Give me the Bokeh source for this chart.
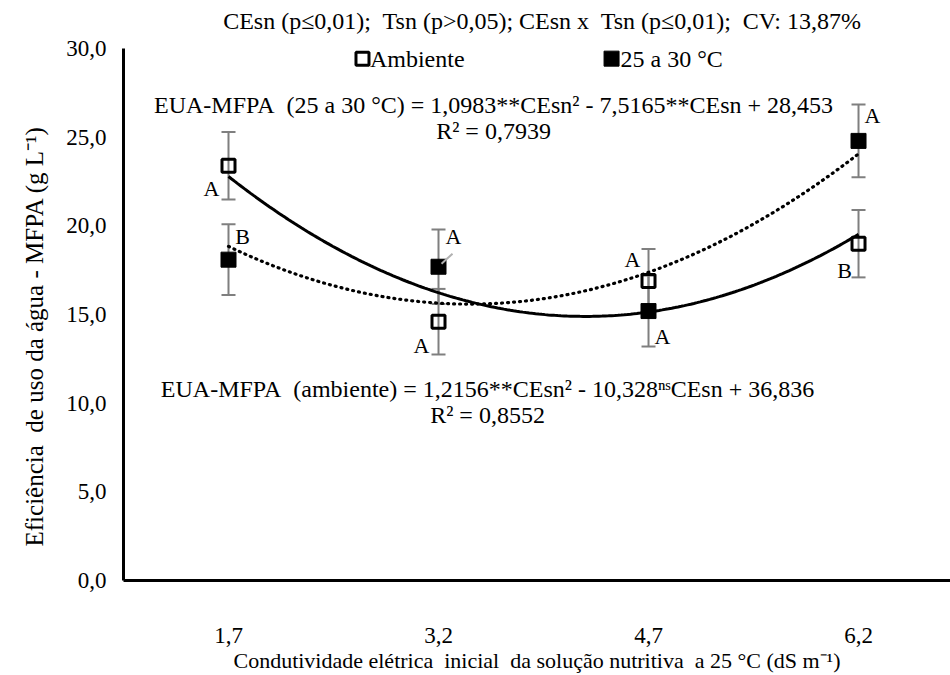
import numpy as np
from bokeh.plotting import figure
from bokeh.models import (ColumnDataSource, Whisker, TeeHead, Label, Range1d, FixedTicker, Title)
from bokeh.core.properties import value
from bokeh.embed import file_html
from bokeh.resources import INLINE

# ---------------- data ----------------
cesn = [1.7, 3.2, 4.7, 6.2]
x_tick_labels = ["1,7", "3,2", "4,7", "6,2"]

amb_mean = [23.4, 14.6, 16.9, 19.0]
amb_err = [1.9, 1.85, 1.8, 1.9]
amb_letters = ["A", "A", "A", "B"]

hot_mean = [18.1, 17.7, 15.2, 24.8]
hot_err = [2.0, 2.1, 2.0, 2.05]
hot_letters = ["B", "A", "A", "A"]

amb_coef = [1.2156, -10.328, 36.836]   # a*x^2 + b*x + c
hot_coef = [1.0983, -7.5165, 28.453]

y_ticks = [0, 5, 10, 15, 20, 25, 30]
y_tick_labels = ["0,0", "5,0", "10,0", "15,0", "20,0", "25,0", "30,0"]

NB = "\u00a0"
title_text = f"CEsn (p\u22640,01);{NB} Tsn (p>0,05); CEsn x{NB} Tsn (p\u22640,01);{NB} CV: 13,87%"
eq_hot = f"EUA-MFPA{NB} (25 a 30 \u00b0C) = 1,0983**CEsn\u00b2 - 7,5165**CEsn + 28,453"
r2_hot = "R\u00b2 = 0,7939"
eq_amb = f"EUA-MFPA{NB} (ambiente) = 1,2156**CEsn\u00b2 - 10,328\u207f\u02e2CEsn + 36,836"
r2_amb = "R\u00b2 = 0,8552"
x_label = (f"Condutividade el\u00e9trica{NB} inicial{NB} da solu\u00e7\u00e3o nutritiva{NB} "
           f"a 25 \u00b0C (dS m\u207b\u00b9)")
y_label = f"Efici\u00eancia{NB} de uso da \u00e1gua - MFPA (g L\u207b\u00b9)"
legend_labels = ["Ambiente", "25 a 30 \u00b0C"]

# ---------------- figure ----------------
FONT = "Liberation Serif"
PX_X = 140.0     # px per CEsn unit
PX_Y = 17.73     # px per y unit
p = figure(width=950, height=675, x_range=Range1d(0.95, 6.857), y_range=Range1d(0, 32.72),
           output_backend="svg", toolbar_location=None,
           min_border_left=123, min_border_right=0, min_border_top=0, min_border_bottom=95)
p.outline_line_color = None
p.xgrid.visible = False
p.ygrid.visible = False
p.background_fill_color = "white"

for ax in (p.xaxis[0], p.yaxis[0]):
    ax.axis_line_width = 3
    ax.axis_line_color = "black"
    ax.major_tick_out = 0
    ax.major_tick_in = 0
    ax.minor_tick_out = 0
    ax.minor_tick_in = 0
    ax.major_label_text_font = FONT
    ax.major_label_text_font_size = "23px"
    ax.major_label_text_color = "black"
    ax.axis_label_text_font = FONT
    ax.axis_label_text_font_style = "normal"
    ax.axis_label_text_color = "black"

p.xaxis.ticker = FixedTicker(ticks=cesn)
p.xaxis.major_label_overrides = {c: l for c, l in zip(cesn, x_tick_labels)}
p.xaxis.major_label_standoff = 47
p.xaxis.axis_label = x_label
p.xaxis.axis_label_text_font_size = "22px"
p.xaxis.axis_label_standoff = 2

p.yaxis.ticker = FixedTicker(ticks=y_ticks)
p.yaxis.bounds = (0, 30)
p.yaxis.major_label_overrides = {t: l for t, l in zip(y_ticks, y_tick_labels)}
p.yaxis.major_label_standoff = 17

# y-axis title as a side title so it can be aligned to the 0-30 span
p.add_layout(Title(text=y_label, align="left", offset=34, standoff=31,
                   text_font=FONT, text_font_size="25px", text_font_style="normal",
                   text_color="black"), "left")

# ---------------- error bars ----------------
amb_src = ColumnDataSource(dict(x=cesn, y=amb_mean,
                                up=[m + e for m, e in zip(amb_mean, amb_err)],
                                lo=[m - e for m, e in zip(amb_mean, amb_err)]))
hot_src = ColumnDataSource(dict(x=cesn, y=hot_mean,
                                up=[m + e for m, e in zip(hot_mean, hot_err)],
                                lo=[m - e for m, e in zip(hot_mean, hot_err)]))
GREY = "#7f7f7f"
for src in (amb_src, hot_src):
    w = Whisker(base="x", upper="up", lower="lo", source=src,
                line_color=GREY, line_width=2, level="underlay",
                upper_head=TeeHead(size=14, line_color=GREY, line_width=2),
                lower_head=TeeHead(size=14, line_color=GREY, line_width=2))
    p.add_layout(w)

# ---------------- trend curves ----------------
xs = np.linspace(cesn[0], cesn[-1], 200)
amb_fit = amb_coef[0] * xs ** 2 + amb_coef[1] * xs + amb_coef[2]
hot_fit = hot_coef[0] * xs ** 2 + hot_coef[1] * xs + hot_coef[2]
p.line(xs, amb_fit, line_color="black", line_width=3)
p.line(xs, hot_fit, line_color="black", line_width=3.2, line_dash="1 5", line_cap="round")

# ---------------- markers ----------------
AMB_STYLE = dict(marker="square", size=13, fill_alpha=0, line_color="black", line_width=3)
HOT_STYLE = dict(marker="square", size=15, fill_color="black", line_color="black", line_width=1)
p.scatter("x", "y", source=amb_src, **AMB_STYLE)
p.scatter("x", "y", source=hot_src, **HOT_STYLE)

# grey leader line (25 a 30 °C, 3.2)
p.segment(x0=[cesn[1] + 3 / PX_X], y0=[hot_mean[1] + 3 / PX_Y],
          x1=[cesn[1] + 14 / PX_X], y1=[hot_mean[1] + 13 / PX_Y],
          line_color="#b0b0b0", line_width=2)

# ---------------- letters ----------------
p.text(x=cesn, y=amb_mean, text=amb_letters,
       x_offset=[-17, -17, -16, -14], y_offset=[23, 24, -21, 27],
       text_align="center", text_baseline="middle",
       text_font=value(FONT), text_font_size="22px", text_color="black")
p.text(x=cesn, y=hot_mean, text=hot_letters,
       x_offset=[14, 15, 14, 14], y_offset=[-23, -30, 25, -25],
       text_align="center", text_baseline="middle",
       text_font=value(FONT), text_font_size="22px", text_color="black")

# ---------------- annotations ----------------
def lab(x, y, txt, size="24px", align="center"):
    p.add_layout(Label(x=x, y=y, text=txt, text_align=align, text_baseline="middle",
                       text_font=FONT, text_font_size=size, text_color="black"))

lab(3.943, 31.58, title_text)
lab(3.593, 26.85, eq_hot)
lab(3.593, 25.38, r2_hot)
lab(3.55, 10.83, eq_amb)
lab(3.55, 9.31, r2_amb)

# legend (drawn by hand, same marker styles)
LEG_Y = 29.44
p.scatter(x=[2.657], y=[LEG_Y], **AMB_STYLE)
p.scatter(x=[4.436], y=[LEG_Y], **HOT_STYLE)
lab(2.71, LEG_Y, legend_labels[0], "24px", "left")
lab(4.50, LEG_Y, legend_labels[1], "24px", "left")

open("out.html", "w").write(file_html(p, INLINE))
